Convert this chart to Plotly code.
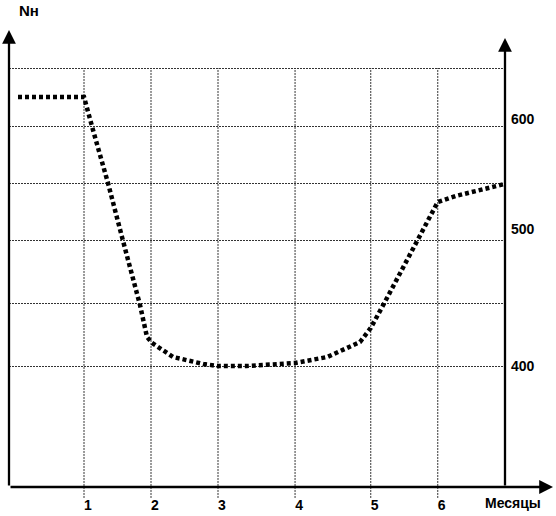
import plotly.graph_objects as go

# --- data ---
month_pos = [1.0, 2.0, 3.0, 4.15, 5.28, 6.28]
month_labels = ["1", "2", "3", "4", "5", "6"]
grid_vals = [400, 452.5, 505, 552.5, 600, 648.3]
right_labels = ["600", "500", "400"]
right_label_vals = [606, 514, 400]

curve_x = [0.015, 1.0, 1.134, 1.358, 1.567, 1.836, 1.94, 2.015, 2.33, 2.78, 3.0,
           3.43, 4.15, 4.63, 5.12, 5.28, 5.49, 5.99, 6.28, 6.55, 7.28]
curve_y = [624.2, 624.2, 596.7, 552.5, 507.5, 450.8, 424.2, 419.2, 407.5, 401.7, 400,
           400, 402.5, 407.5, 420, 431.7, 453.3, 506.7, 536.7, 541.7, 551.7]

x_range = [-0.1194, 7.2836]
y_range = [299.17, 680.0]

FONT = "Liberation Sans, Arial, sans-serif"

fig = go.Figure()
fig.add_trace(go.Scatter(
    x=curve_x, y=curve_y, mode="lines",
    line=dict(color="black", width=4.5, dash="4px,3px"),
    hoverinfo="skip", showlegend=False,
))

# vertical grid lines (from top grid line down below the axis)
y_top_frac = (grid_vals[-1] - y_range[0]) / (y_range[1] - y_range[0])
for mx in month_pos:
    fig.add_shape(type="line", xref="x", yref="paper",
                  x0=mx, x1=mx, y0=-0.024, y1=y_top_frac,
                  line=dict(color="#333", width=1, dash="2px,1px"), layer="below")

annotations = []
# axis arrows
annotations.append(dict(xref="paper", yref="paper", x=0, y=1, ax=0, ay=457,
                        axref="pixel", ayref="pixel", text="", showarrow=True,
                        arrowhead=2, arrowsize=1.2, arrowwidth=2.3, arrowcolor="black"))
annotations.append(dict(xref="paper", yref="paper", x=1, y=0.9825, ax=0, ay=449,
                        text="", showarrow=True,
                        arrowhead=2, arrowsize=1.2, arrowwidth=2.3, arrowcolor="black"))
annotations.append(dict(xref="paper", yref="paper", x=1.0968, y=0, ax=-544, ay=0,
                        text="", showarrow=True,
                        arrowhead=2, arrowsize=1.2, arrowwidth=2.3, arrowcolor="black"))
# right axis value labels
for t, v in zip(right_labels, right_label_vals):
    annotations.append(dict(xref="paper", yref="y", x=1.0, y=v, xanchor="left",
                            xshift=4, text=t, showarrow=False,
                            font=dict(family=FONT, size=14, color="black", weight="bold")))
annotations.append(dict(xref="paper", yref="paper", x=1.0163, y=-0.035, xanchor="center",
                        yanchor="middle", text="Месяцы", showarrow=False,
                        font=dict(family=FONT, size=14, color="black", weight="bold")))
annotations.append(dict(xref="paper", yref="paper", x=0.04, y=1.0, yshift=20,
                        xanchor="center", yanchor="middle", text="Nн", showarrow=False,
                        font=dict(family=FONT, size=15, color="black", weight="bold")))

fig.update_layout(
    width=556, height=516,
    margin=dict(l=9, r=51, t=30, b=29),
    paper_bgcolor="white", plot_bgcolor="white",
    showlegend=False,
    annotations=annotations,
    xaxis=dict(range=x_range, tickvals=month_pos, ticktext=month_labels,
               showgrid=False, zeroline=False, showline=False, ticks="",
               ticklabelshift=4, ticklabelstandoff=8, automargin=False,
               tickfont=dict(family=FONT, size=14, color="black", weight="bold"),
               fixedrange=True),
    yaxis=dict(range=y_range, tickvals=grid_vals, showticklabels=False,
               showgrid=True, gridcolor="#333", gridwidth=1, griddash="2px,1px",
               zeroline=False, showline=False, ticks="", fixedrange=True,
               automargin=False),
)

fig.write_html("out.html", config={"displayModeBar": False},
               post_script="document.body.style.margin='0';document.body.style.overflow='hidden';")
